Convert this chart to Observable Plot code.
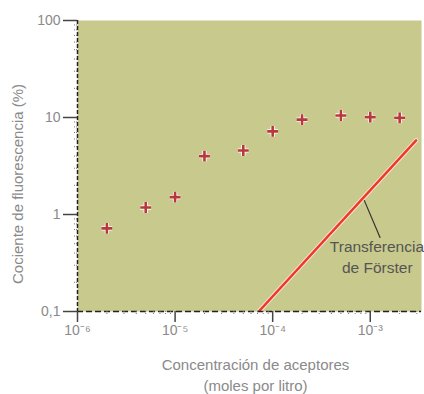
<!DOCTYPE html>
<html>
<head>
<meta charset="utf-8">
<script src="https://cdn.jsdelivr.net/npm/d3@7"></script>
<script src="https://cdn.jsdelivr.net/npm/@observablehq/plot@0.6"></script>
<style>
  html, body { margin: 0; padding: 0; background: #ffffff; }
  #chart { width: 424px; height: 394px; }
  g[aria-label="x-title"] text { letter-spacing: 1px; }
  g[aria-label="y-title"] text { letter-spacing: 0.5px; }
</style>
</head>
<body>
<div id="chart"></div>
<script>
// ---- data ----
const concentration = [2e-6, 5e-6, 1e-5, 2e-5, 5e-5, 1e-4, 2e-4, 5e-4, 1e-3, 2e-3];
const ratio = [0.72, 1.18, 1.51, 4.0, 4.57, 7.2, 9.5, 10.5, 10.1, 9.9];

const forsterX = [7.2e-5, 2.95e-3];
const forsterY = [0.1, 5.8];

const xTicks = [1e-6, 1e-5, 1e-4, 1e-3];
const xTickLabels = ["10⁻⁶", "10⁻⁵", "10⁻⁴", "10⁻³"];
const xMinor = [2e-6, 3e-6, 4e-6, 5e-6, 6e-6, 7e-6, 8e-6, 9e-6,
                2e-5, 3e-5, 4e-5, 5e-5, 6e-5, 7e-5, 8e-5, 9e-5,
                2e-4, 3e-4, 4e-4, 5e-4, 6e-4, 7e-4, 8e-4, 9e-4,
                2e-3, 3e-3];
const yTicks = [0.1, 1, 10, 100];
const yTickLabels = ["0,1", "1", "10", "100"];
const yMinor = [0.2, 0.3, 0.4, 0.5, 0.6, 0.7, 0.8, 0.9,
                2, 3, 4, 5, 6, 7, 8, 9,
                20, 30, 40, 50, 60, 70, 80, 90];

const xTitle = ["Concentración de aceptores", "(moles por litro)"];
const yTitle = "Cociente de fluorescencia (%)";

const noteLines = ["Transferencia", "de Förster"];
const noteX = [1.17e-3, 1.18e-3];
const noteY = [0.46, 0.28];
const leaderX = [8.7e-4, 1.26e-3];
const leaderY = [1.39, 0.58];

// ---- build ----
const forster = forsterX.map((x, i) => ({x, y: forsterY[i]}));
const points = concentration.map((c, i) => ({c, r: ratio[i]}));
const leader = leaderX.map((x, i) => ({x, y: leaderY[i]}));
const notes = noteLines.map((t, i) => ({t, x: noteX[i], y: noteY[i]}));
const xLab = new Map(xTicks.map((t, i) => [t, xTickLabels[i]]));
const yLab = new Map(yTicks.map((t, i) => [t, yTickLabels[i]]));

const grey = "#8a8a8a";
const font = "Liberation Sans, Arial, sans-serif";

const chart = Plot.plot({
  width: 424,
  height: 394,
  marginLeft: 77,
  marginRight: 3,
  marginTop: 20,
  marginBottom: 83,
  style: {fontFamily: font, background: "transparent"},
  x: {type: "log", domain: [1e-6, 3.35e-3]},
  y: {type: "log", domain: [0.1, 100]},
  marks: [
    Plot.frame({fill: "#c8c98c", stroke: "none"}),
    // Förster line
    Plot.line(forster, {x: "x", y: "y", stroke: "#fbe3dc", strokeWidth: 4.5, clip: true}),
    Plot.line(forster, {x: "x", y: "y", stroke: "#ee3a22", strokeWidth: 2.5, clip: true}),
    // leader and note
    Plot.line(leader, {x: "x", y: "y", stroke: "#333", strokeWidth: 1.2}),
    Plot.text(notes, {x: "x", y: "y", text: "t", fill: "#555", fontSize: 15.5, textAnchor: "middle"}),
    // data points
    Plot.dot(points, {x: "c", y: "r", symbol: "plus", r: 3.6, stroke: "#ffffff", strokeWidth: 4.2}),
    Plot.dot(points, {x: "c", y: "r", symbol: "plus", r: 3.6, stroke: "#b8393a", strokeWidth: 2.6}),
    // axis lines
    Plot.ruleX([1e-6], {stroke: "#222", strokeWidth: 1.5, strokeDasharray: "4,2"}),
    Plot.ruleY([0.1], {stroke: "#222", strokeWidth: 1.5, strokeDasharray: "6,3"}),
    // ticks
    Plot.axisX({ticks: xMinor, tickSize: 4, tickFormat: () => "", stroke: "#777", strokeDasharray: "1,1"}),
    Plot.axisX({ticks: xTicks, tickSize: 11, tickPadding: 3, tickFormat: d => xLab.get(d),
                stroke: "#444", strokeWidth: 1.5, fill: grey, fontSize: 14, label: null}),
    Plot.axisY({ticks: yMinor, tickSize: 4, tickFormat: () => "", stroke: "#777", strokeDasharray: "1,1"}),
    Plot.axisY({ticks: yTicks, tickSize: 14, tickPadding: 3, tickFormat: d => yLab.get(d),
                stroke: "#444", strokeWidth: 1.5, fill: grey, fontSize: 14, label: null}),
    // titles
    Plot.text([xTitle.join("\n")], {frameAnchor: "bottom", dy: 62, lineHeight: 1.4, lineAnchor: "middle",
                text: d => d, fill: grey, fontSize: 15, ariaLabel: "x-title", dx: 6}),
    Plot.text([yTitle], {frameAnchor: "left", rotate: -90, dx: -59, dy: 18, textAnchor: "middle",
                text: d => d, fill: grey, fontSize: 15, ariaLabel: "y-title"})
  ]
});
document.getElementById("chart").appendChild(chart);
</script>
</body>
</html>
